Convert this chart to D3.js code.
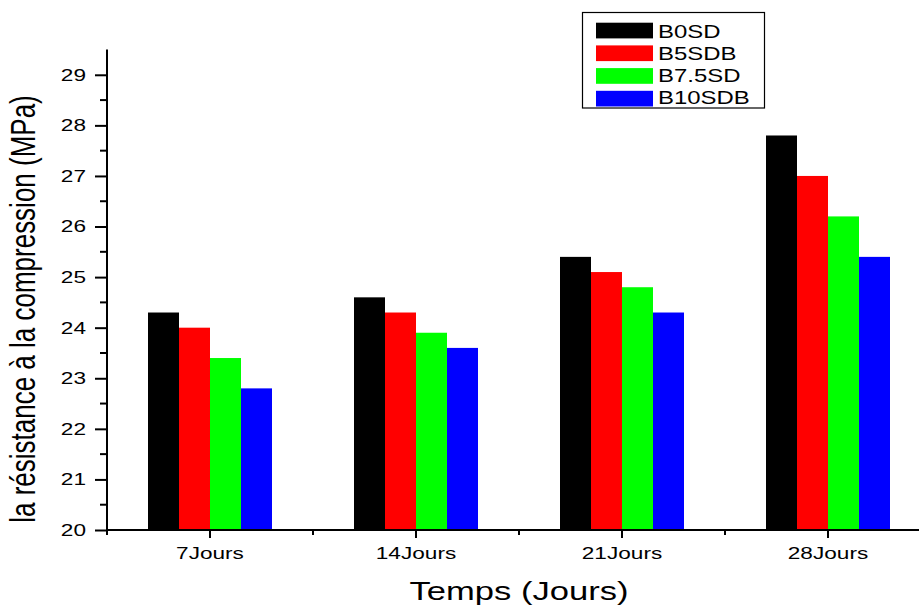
<!DOCTYPE html>
<html><head><meta charset="utf-8">
<script src="https://cdn.jsdelivr.net/npm/d3@7"></script>
<style>body{margin:0;background:#fff}svg{display:block}text{font-family:"Liberation Sans",Arial,sans-serif}</style>
</head><body><svg id="c" width="919" height="606"></svg>
<script>
const categories = ["7Jours","14Jours","21Jours","28Jours"];
const seriesNames = ["B0SD","B5SDB","B7.5SD","B10SDB"];
const colors = ["#000000","#ff0000","#00ff00","#0000ff"];
const B0SD = [24.3,24.6,25.4,27.8];
const B5SDB = [24.0,24.3,25.1,27.0];
const B75SD = [23.4,23.9,24.8,26.2];
const B10SDB = [22.8,23.6,24.3,25.4];
const seriesValues = [B0SD,B5SDB,B75SD,B10SDB];
const yTicks = [20,21,22,23,24,25,26,27,28,29];

const SX = 1.33; // horizontal text stretch seen in the reference
const svg = d3.select("#c");
const x0 = 107, yBase = 530, yTop = 49.5;
const band = 206;
const x = d3.scaleBand().domain(categories).range([x0, x0 + band*categories.length]).padding(0);
const y = d3.scaleLinear().domain([20,29.5]).range([yBase, yTop]);
const groupW = 124;
const xs = d3.scaleBand().domain(seriesNames).range([0, groupW]).padding(0);

// bars
seriesNames.forEach((s,si)=>{
  svg.append("g").selectAll("rect").data(categories).join("rect")
    .attr("x", (c)=> x(c) + x.bandwidth()/2 - groupW/2 + xs(s))
    .attr("y", (c,i)=> y(seriesValues[si][i]))
    .attr("width", xs.bandwidth())
    .attr("height", (c,i)=> yBase - y(seriesValues[si][i]))
    .attr("fill", colors[si]);
});

// y axis
const yAxis = d3.axisLeft(y).tickValues(yTicks).tickSize(12).tickPadding(4).tickFormat(d3.format("d"));
const gy = svg.append("g").attr("transform",`translate(${x0},0)`).call(yAxis);
gy.select(".domain").attr("stroke","#000").attr("stroke-width",2).attr("d",`M0,${yTop}H0V${yBase}`);
gy.selectAll(".tick line").attr("stroke-width",2);
gy.selectAll(".tick text").attr("font-size",17).attr("fill","#000")
  .attr("font-family","'Liberation Sans',Arial,sans-serif")
  .attr("x", -21/SX).attr("transform",`scale(${SX},1)`);
// y minor ticks
const yMinor = d3.range(20.5, 29.5, 1);
svg.append("g").selectAll("line").data(yMinor).join("line")
  .attr("x1", x0-7).attr("x2", x0).attr("y1", d=>y(d)).attr("y2", d=>y(d))
  .attr("stroke","#000").attr("stroke-width",2);

// x axis
const xAxis = d3.axisBottom(x).tickSize(8).tickPadding(9);
const gx = svg.append("g").attr("transform",`translate(0,${yBase})`).call(xAxis);
gx.select(".domain").attr("d",`M${x0-1},0H919`).attr("stroke","#000").attr("stroke-width",2);
gx.selectAll(".tick line").attr("stroke-width",2);
gx.selectAll(".tick text").attr("font-size",17).attr("fill","#000")
  .attr("font-family","'Liberation Sans',Arial,sans-serif")
  .attr("transform",`scale(${SX},1)`);
// x minor ticks at boundaries
const xMinor = categories.map(c=>x(c));
svg.append("g").selectAll("line").data(xMinor).join("line")
  .attr("x1", d=>d).attr("x2", d=>d).attr("y1", yBase).attr("y2", yBase+5)
  .attr("stroke","#000").attr("stroke-width",2);

// titles
svg.append("text").attr("transform",`translate(519,600) scale(${SX},1)`).attr("text-anchor","middle")
  .attr("font-size",26).attr("fill","#000").text("Temps (Jours)");
svg.append("text").attr("transform",`translate(35,309) rotate(-90) scale(1,${SX})`).attr("text-anchor","middle")
  .attr("font-size",26).attr("fill","#000").text("la résistance à la compression (MPa)");

// legend
const lg = svg.append("g");
lg.append("rect").attr("x",582.5).attr("y",12.5).attr("width",182).attr("height",95.5)
  .attr("fill","#fff").attr("stroke","#000").attr("stroke-width",1.2);
seriesNames.forEach((s,i)=>{
  const top = 22.7 + i*22.7;
  lg.append("rect").attr("x",596).attr("y",top).attr("width",57).attr("height",15.7).attr("fill",colors[i]);
  lg.append("text").attr("transform",`translate(658,${37.5 + i*22.2}) scale(${SX},1)`)
    .attr("font-size",18).attr("fill","#000").text(s);
});
</script></body></html>
